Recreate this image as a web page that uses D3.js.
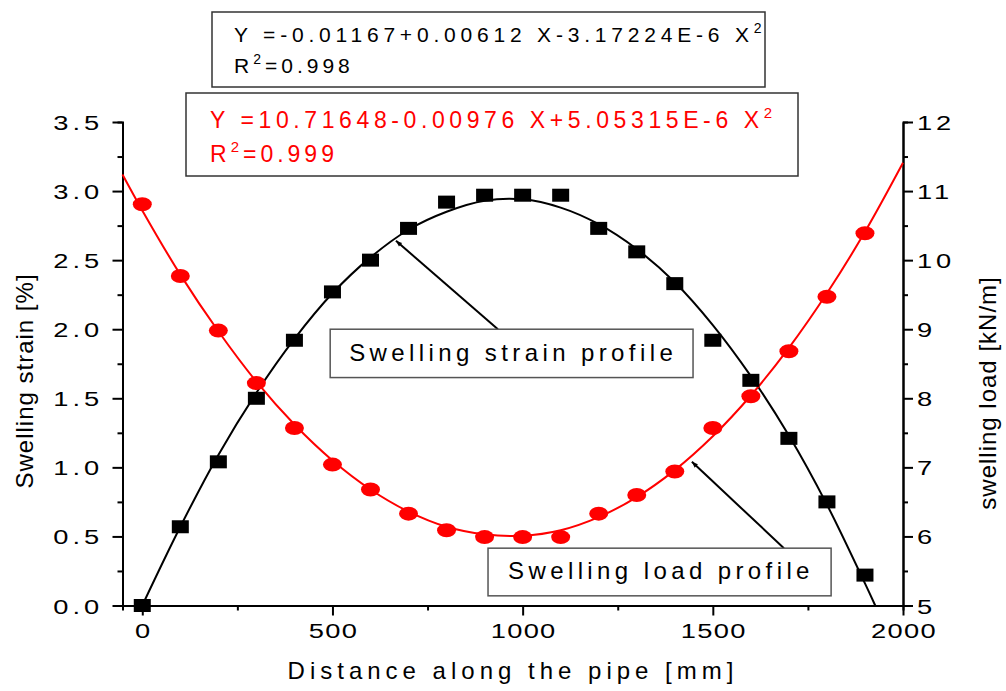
<!DOCTYPE html>
<html>
<head>
<meta charset="utf-8">
<script src="https://cdn.jsdelivr.net/npm/d3@7"></script>
<style>
  body { margin: 0; background: #fff; }
  svg text { font-family: "Liberation Sans", Arial, sans-serif; }
</style>
</head>
<body>
<svg id="chart" width="1006" height="691"></svg>
<script>
// measured points
const distance = [0, 100, 200, 300, 400, 500, 600, 700, 800, 900, 1000,
                  1100, 1200, 1300, 1400, 1500, 1600, 1700, 1800, 1900];
const strain = [0.0, 0.57, 1.04, 1.50, 1.92, 2.27, 2.50, 2.73, 2.92, 2.97, 2.97,
                2.97, 2.73, 2.56, 2.33, 1.92, 1.63, 1.21, 0.75, 0.22];
const load = [10.81, 9.77, 8.98, 8.22, 7.57, 7.04, 6.68, 6.33, 6.09, 5.99, 5.99,
              5.99, 6.33, 6.60, 6.94, 7.57, 8.03, 8.68, 9.47, 10.39];

// fitted curves
const strainFitX = [0, 100, 200, 300, 400, 500, 600, 700, 800, 900, 1000,
                    1100, 1200, 1300, 1400, 1500, 1600, 1700, 1800, 1900, 1927];
const strainFit = [0.0, 0.57, 1.09, 1.54, 1.93, 2.26, 2.52, 2.72, 2.85, 2.93, 2.94,
                   2.88, 2.76, 2.58, 2.34, 2.03, 1.66, 1.23, 0.73, 0.16, 0.0];
const loadFitX = [-52, 0, 100, 200, 300, 400, 500, 600, 700, 800, 900, 1000,
                  1100, 1200, 1300, 1400, 1500, 1600, 1700, 1800, 1900, 2000];
const loadFit = [11.24, 10.72, 9.79, 8.97, 8.24, 7.62, 7.10, 6.68, 6.36, 6.14, 6.03, 6.01,
                 6.09, 6.28, 6.57, 6.96, 7.45, 8.04, 8.73, 9.52, 10.41, 11.41];

const xTicks = [0, 500, 1000, 1500, 2000];
const yLeftTicks = [0, 0.5, 1, 1.5, 2, 2.5, 3, 3.5];
const yRightTicks = [5, 6, 7, 8, 9, 10, 11, 12];

const plotLeft = 122.5, plotRight = 903, plotTop = 122, plotBottom = 605.5;
const stretch = 1.3; // tick labels are drawn wide in the original

const svg = d3.select('#chart');

const x = d3.scaleLinear().domain([-52, 2000]).range([plotLeft, plotRight]);
const yL = d3.scaleLinear().domain([0, 3.5]).range([plotBottom, plotTop]);
const yR = d3.scaleLinear().domain([5, 12]).range([plotBottom, plotTop]);

// minor ticks first, then the major axes on top
svg.append('g')
    .attr('transform', `translate(0,${plotBottom})`)
    .call(d3.axisBottom(x).tickValues([250, 750, 1250, 1750]).tickSize(5).tickFormat(''));
svg.append('g')
    .attr('transform', `translate(${plotLeft},0)`)
    .call(d3.axisLeft(yL).tickValues([0.25, 0.75, 1.25, 1.75, 2.25, 2.75, 3.25]).tickSize(5).tickFormat(''));
svg.append('g')
    .attr('transform', `translate(${plotRight},0)`)
    .call(d3.axisRight(yR).tickValues([5.5, 6.5, 7.5, 8.5, 9.5, 10.5, 11.5]).tickSize(5).tickFormat(''));

const xAxis = svg.append('g')
    .attr('transform', `translate(0,${plotBottom})`)
    .call(d3.axisBottom(x).tickValues(xTicks).tickSize(10).tickSizeOuter(0)
        .tickFormat(d3.format('d')));
xAxis.selectAll('.tick text')
    .attr('y', null).attr('dy', null)
    .attr('transform', `translate(0.5,32.5) scale(${stretch},1)`)
    .style('font-size', '21px').style('letter-spacing', '1px');

const leftAxis = svg.append('g')
    .attr('transform', `translate(${plotLeft},0)`)
    .call(d3.axisLeft(yL).tickValues(yLeftTicks).tickSize(10).tickSizeOuter(0)
        .tickFormat(d3.format('.1f')));
leftAxis.selectAll('.tick text')
    .attr('x', null).attr('dy', null)
    .attr('transform', `translate(-19.5,7.5) scale(${stretch},1)`)
    .style('font-size', '21px').style('letter-spacing', '3px');

const rightAxis = svg.append('g')
    .attr('transform', `translate(${plotRight},0)`)
    .call(d3.axisRight(yR).tickValues(yRightTicks).tickSize(10).tickSizeOuter(0)
        .tickFormat(d3.format('d')));
rightAxis.selectAll('.tick text')
    .attr('x', null).attr('dy', null)
    .attr('transform', `translate(14,7.5) scale(${stretch},1)`)
    .style('font-size', '21px').style('letter-spacing', '3px');

svg.selectAll('.domain').attr('stroke', '#000').attr('stroke-width', 2);
svg.selectAll('.tick line').attr('stroke', '#000').attr('stroke-width', 2);
svg.selectAll('.tick text').attr('fill', '#000');

// axis titles
svg.append('text')
    .attr('x', 513).attr('y', 679)
    .attr('text-anchor', 'middle')
    .style('font-size', '24px').style('letter-spacing', '5px')
    .text('Distance along the pipe [mm]');

svg.append('text')
    .attr('transform', 'translate(33,381) rotate(-90)')
    .attr('text-anchor', 'middle')
    .style('font-size', '24px').style('letter-spacing', '1px')
    .text('Swelling strain [%]');

svg.append('text')
    .attr('transform', 'translate(996,393) rotate(-90)')
    .attr('text-anchor', 'middle')
    .style('font-size', '24px').style('letter-spacing', '1px')
    .text('swelling load [kN/m]');

// fit lines
const strainLine = d3.line()
    .x((d, i) => x(strainFitX[i]))
    .y(d => yL(d))
    .curve(d3.curveCatmullRom);
svg.append('path')
    .datum(strainFit)
    .attr('d', strainLine)
    .attr('fill', 'none')
    .attr('stroke', '#000')
    .attr('stroke-width', 2);

const loadLine = d3.line()
    .x((d, i) => x(loadFitX[i]))
    .y(d => yR(d))
    .curve(d3.curveCatmullRom);
svg.append('path')
    .datum(loadFit)
    .attr('d', loadLine)
    .attr('fill', 'none')
    .attr('stroke', '#ff0000')
    .attr('stroke-width', 2);

// markers
svg.append('g').selectAll('rect')
    .data(strain)
    .join('rect')
    .attr('x', (d, i) => x(distance[i]) - 8.5)
    .attr('y', d => yL(d) - 6.5)
    .attr('width', 17)
    .attr('height', 13)
    .attr('fill', '#000');

svg.append('g').selectAll('ellipse')
    .data(load)
    .join('ellipse')
    .attr('cx', (d, i) => x(distance[i]))
    .attr('cy', d => yR(d))
    .attr('rx', 9.5)
    .attr('ry', 7)
    .attr('fill', '#ff0000');

// annotations with arrows
svg.append('defs').append('marker')
    .attr('id', 'arrow')
    .attr('viewBox', '0 0 10 10')
    .attr('refX', 10).attr('refY', 5)
    .attr('markerWidth', 9).attr('markerHeight', 6)
    .attr('markerUnits', 'userSpaceOnUse')
    .attr('orient', 'auto')
    .append('path')
    .attr('d', 'M0,1 L10,5 L0,9 Z')
    .attr('fill', '#000');

svg.append('line')
    .attr('x1', x(935)).attr('y1', yL(2.0))
    .attr('x2', x(667)).attr('y2', yL(2.64))
    .attr('stroke', '#000').attr('stroke-width', 2)
    .attr('marker-end', 'url(#arrow)');

svg.append('line')
    .attr('x1', x(1687)).attr('y1', yR(5.83))
    .attr('x2', x(1445)).attr('y2', yR(7.08))
    .attr('stroke', '#000').attr('stroke-width', 2)
    .attr('marker-end', 'url(#arrow)');

svg.append('rect')
    .attr('x', x(494)).attr('y', yL(2.0))
    .attr('width', x(1448) - x(494)).attr('height', yL(1.65) - yL(2.0))
    .attr('fill', '#fff').attr('stroke', '#555').attr('stroke-width', 1.5);
svg.append('text')
    .attr('x', x(494) + 19).attr('y', yL(2.0) + 32)
    .style('font-size', '24px').style('letter-spacing', '4.4px')
    .text('Swelling strain profile');

svg.append('rect')
    .attr('x', x(909)).attr('y', yR(5.83))
    .attr('width', x(1811) - x(909)).attr('height', yR(5.14) - yR(5.83))
    .attr('fill', '#fff').attr('stroke', '#555').attr('stroke-width', 1.5);
svg.append('text')
    .attr('x', x(909) + 20).attr('y', yR(5.83) + 31)
    .style('font-size', '24px').style('letter-spacing', '4.4px')
    .text('Swelling load profile');

// equation boxes
const eq1 = svg.append('g');
eq1.append('rect')
    .attr('x', 212).attr('y', 12).attr('width', 553).attr('height', 75)
    .attr('fill', '#fff').attr('stroke', '#333').attr('stroke-width', 1.5);
const e1a = eq1.append('text').attr('x', 234).attr('y', 42)
    .style('font-size', '21px').style('letter-spacing', '4.8px');
e1a.append('tspan').text('Y =-0.01167+0.00612 X-3.17224E-6 X');
e1a.append('tspan').attr('dy', -9).style('font-size', '14px').text('2');
const e1b = eq1.append('text').attr('x', 234).attr('y', 73)
    .style('font-size', '21px').style('letter-spacing', '4px');
e1b.append('tspan').text('R');
e1b.append('tspan').attr('dy', -9).style('font-size', '14px').text('2');
e1b.append('tspan').attr('dy', 9).text('=0.998');

const eq2 = svg.append('g');
eq2.append('rect')
    .attr('x', 186).attr('y', 93).attr('width', 612).attr('height', 83)
    .attr('fill', '#fff').attr('stroke', '#333').attr('stroke-width', 1.5);
const e2a = eq2.append('text').attr('x', 210).attr('y', 128)
    .attr('fill', '#ff0000')
    .style('font-size', '23px').style('letter-spacing', '4.6px');
e2a.append('tspan').text('Y =10.71648-0.00976 X+5.05315E-6 X');
e2a.append('tspan').attr('dy', -10).style('font-size', '15px').text('2');
const e2b = eq2.append('text').attr('x', 210).attr('y', 162)
    .attr('fill', '#ff0000')
    .style('font-size', '23px').style('letter-spacing', '4px');
e2b.append('tspan').text('R');
e2b.append('tspan').attr('dy', -10).style('font-size', '15px').text('2');
e2b.append('tspan').attr('dy', 10).text('=0.999');
</script>
</body>
</html>
